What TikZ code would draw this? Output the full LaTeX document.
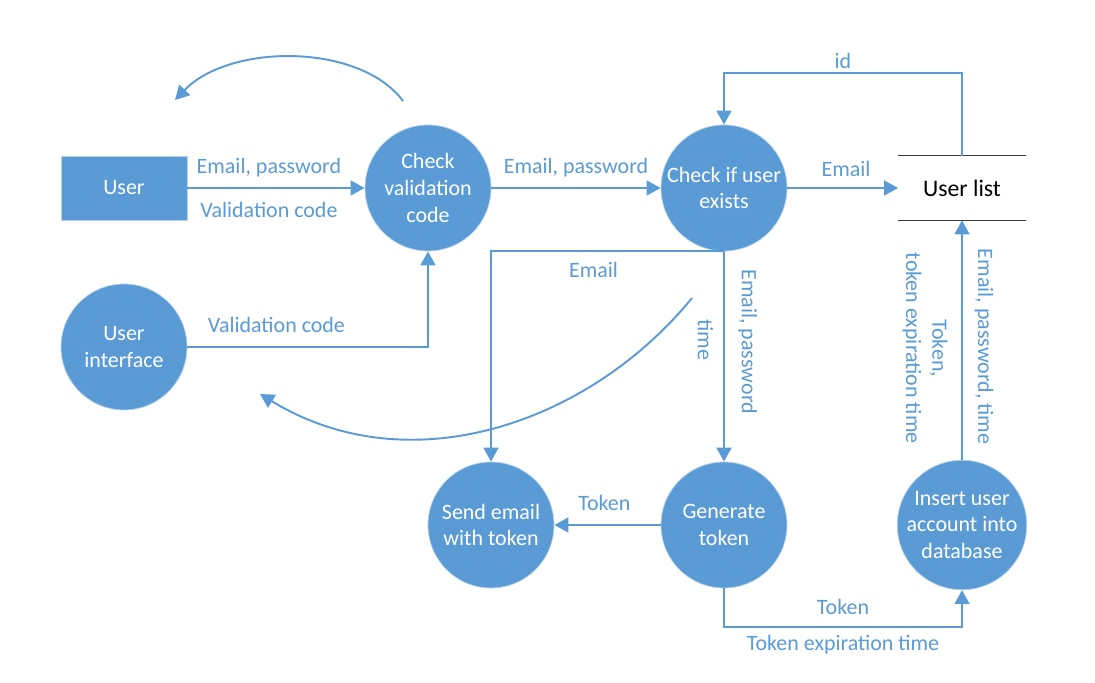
\documentclass[tikz,border=0pt]{standalone}
\usepackage{fontspec}
\setmainfont{Carlito}
\usetikzlibrary{arrows.meta, positioning, calc}
\definecolor{flowblue}{RGB}{91, 155, 213}
\definecolor{storegray}{RGB}{60, 60, 60}

\begin{document}
\begin{tikzpicture}[
  proc/.style={circle, fill=flowblue, draw=flowblue!45!white, line width=0.4pt, text=white,
    minimum size=2.52cm, inner sep=0pt, align=center, font=\fontsize{12.5}{15.3}\selectfont},
  ext/.style={rectangle, fill=flowblue, draw=flowblue!45!white, line width=0.4pt, text=white,
    minimum width=2.52cm, minimum height=1.28cm, font=\fontsize{12.5}{15.3}\selectfont},
  store/.style={minimum width=2.54cm, minimum height=1.28cm, font=\fontsize{13.5}{16}\selectfont},
  flow/.style={flowblue, line width=1.1pt, -{Triangle[length=8pt, width=8.5pt]}},
  lbl/.style={text=flowblue, inner sep=0pt, align=center, font=\fontsize{12.5}{15}\selectfont},
]

\useasboundingbox (0,0) rectangle (21.9,13.66);

% processes, entity and data store
\node[ext]   (user)      at (2.48,9.90)  {User};
\node[proc]  (checkval)  at (8.56,9.90)  {Check\\validation\\code};
\node[proc]  (checkuser) at (14.48,9.90) {Check if user\\exists};
\node[store] (userlist)  at (19.24,9.90) {User list};
\node[proc]  (ui)        at (2.48,6.72)  {User\\interface};
\node[proc]  (sendmail)  at (9.82,3.16)  {Send email\\with token};
\node[proc]  (gentoken)  at (14.48,3.16) {Generate\\token};
\node[proc]  (insert)    at (19.24,3.16) {Insert user\\account into\\database};

\draw[storegray, line width=0.8pt] (userlist.north west) -- (userlist.north east);
\draw[storegray, line width=0.8pt] (userlist.south west) -- (userlist.south east);

% free ends of the two curved arrows and corners
\coordinate (loopa) at (8.06,11.64);
\coordinate (loopb) at (3.50,11.66);
\coordinate (swinga) at (13.84,7.70);
\coordinate (swingb) at (5.20,5.78);
\coordinate (idcorner) at (19.24,12.20);
\coordinate (tokcorner) at (14.48,1.12);

% top row
\draw[flow] (user.east) -- (checkval.west)
  node[lbl, pos=0.46, above=5.9pt] {Email, password}
  node[lbl, pos=0.46, below=7.4pt] {Validation code};
\draw[flow] (checkval.east) -- (checkuser.west)
  node[lbl, midway, above=5.9pt] {Email, password};
\draw[flow] (checkuser.east) -- (userlist.west)
  node[lbl, pos=0.53, above=5.7pt] {Email};
\draw[flow] (userlist.north) -- (idcorner) -| node[lbl, pos=0.25, above=2pt] {id} (checkuser.north);

% into the checks
\draw[flow] (ui.east) -| node[lbl, pos=0.185, above=7.8pt] {Validation code} (checkval.south);
\draw[flow] (checkuser.south) -| node[lbl, pos=0.28, below=5.7pt] {Email} (sendmail.north);
\draw[flow] (checkuser.south) -- (gentoken.north)
  node[lbl, pos=0.43, rotate=-90, anchor=south, yshift=7.6pt] {Email, password}
  node[lbl, pos=0.42, rotate=-90, anchor=north, yshift=-5.7pt] {time};

% bottom row
\draw[flow] (gentoken.west) -- (sendmail.east)
  node[lbl, pos=0.53, above=7.4pt] {Token};
\draw[flow] (gentoken.south) -- (tokcorner) -| node[lbl, pos=0.25, above=6.3pt] {Token}
  node[lbl, pos=0.25, below=4.2pt] {Token expiration time} (insert.south);
\draw[flow] (insert.north) -- (userlist.south)
  node[lbl, pos=0.473, rotate=-90, anchor=south, yshift=6.6pt] {Email, password, time}
  node[lbl, pos=0.466, rotate=-90, anchor=north, yshift=-7.6pt] {Token,\\token expiration time};

% curved return arrows
\draw[flow] (loopa) .. controls (7.2,12.8) and (4.6,12.8) .. (loopb);
\draw[flow] (swinga) .. controls (11.8,5.2) and (8.2,3.95) .. (swingb);

\end{tikzpicture}
\end{document}
